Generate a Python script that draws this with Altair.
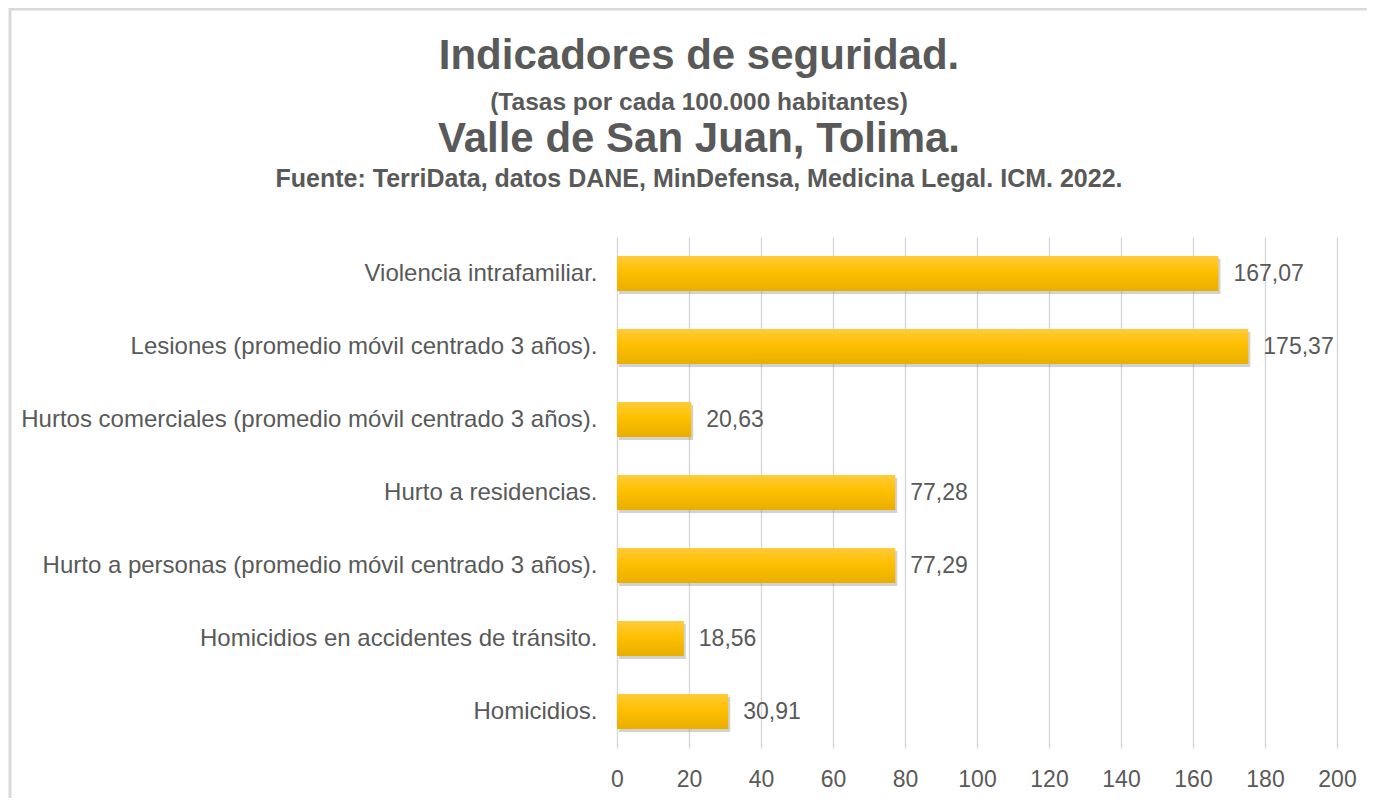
import altair as alt
import pandas as pd

categorias = [
    "Violencia intrafamiliar.",
    "Lesiones (promedio móvil centrado 3 años).",
    "Hurtos comerciales (promedio móvil centrado 3 años).",
    "Hurto a residencias.",
    "Hurto a personas (promedio móvil centrado 3 años).",
    "Homicidios en accidentes de tránsito.",
    "Homicidios.",
]
valores = [167.07, 175.37, 20.63, 77.28, 77.29, 18.56, 30.91]
etiquetas = ["167,07", "175,37", "20,63", "77,28", "77,29", "18,56", "30,91"]
ticks_x = [0, 20, 40, 60, 80, 100, 120, 140, 160, 180, 200]

titulos = [
    "Indicadores de seguridad.",
    "(Tasas por cada 100.000 habitantes)",
    "Valle de San Juan, Tolima.",
    "Fuente: TerriData, datos DANE, MinDefensa, Medicina Legal. ICM. 2022.",
]

df = pd.DataFrame({"cat": categorias, "val": valores, "lab": etiquetas})

FONT = "Liberation Sans"
GRAY = "#595959"

y_enc = alt.Y(
    "cat:N",
    sort=categorias,
    title=None,
    scale=alt.Scale(paddingInner=0.52, paddingOuter=0.26),
    axis=alt.Axis(
        domain=False, ticks=False, labelPadding=20, labelFontSize=24,
        labelColor=GRAY, labelFont=FONT, labelLimit=700, grid=False,
    ),
)
x_enc = alt.X(
    "val:Q",
    title=None,
    scale=alt.Scale(domain=[0, 200], nice=False),
    axis=alt.Axis(
        values=ticks_x, domain=False, ticks=False, labelPadding=20,
        labelFontSize=23, labelColor=GRAY, labelFont=FONT, labelFlush=False,
        grid=True, gridColor="#d9d9d9", gridWidth=1.5,
    ),
)

base = alt.Chart(df)

shadow = base.mark_bar(color="#7f7f7f", opacity=0.35, xOffset=2, yOffset=3).encode(
    x=x_enc, y=y_enc
)

gradient = alt.Gradient(
    gradient="linear",
    stops=[
        alt.GradientStop(color="#FFCB3A", offset=0),
        alt.GradientStop(color="#FFC000", offset=0.45),
        alt.GradientStop(color="#E9AE00", offset=1),
    ],
    x1=0, x2=0, y1=0, y2=1,
)
bars = base.mark_bar(color=gradient).encode(x=x_enc, y=y_enc)

text = base.mark_text(
    align="left", baseline="middle", dx=15, fontSize=23, font=FONT, color=GRAY
).encode(x="val:Q", y=alt.Y("cat:N", sort=categorias), text="lab:N")

tdf = pd.DataFrame({"t": titulos})
t_sizes = [42, 24.5, 42, 25]
t_y = [-168, -127, -85, -50]
title_layers = []
for i, (s, yy) in enumerate(zip(t_sizes, t_y)):
    title_layers.append(
        alt.Chart(tdf.iloc[[i]]).mark_text(
            align="center", baseline="alphabetic", fontSize=s, fontWeight="bold",
            font=FONT, color=GRAY,
        ).encode(text="t:N", x=alt.value(82), y=alt.value(yy))
    )

border = alt.Chart(pd.DataFrame({"a": [0]})).mark_rect(
    filled=False, stroke="#d9d9d9", strokeWidth=3
).encode(x=alt.value(-607), x2=alt.value(780), y=alt.value(-228), y2=alt.value(620))

chart = alt.layer(border, shadow, bars, text, *title_layers).properties(
    width=720,
    height=511,
    autosize=alt.AutoSizeParams(type="none"),
    padding={"left": 609, "top": 229, "right": 30, "bottom": 50},
    background="white",
).configure_view(stroke=None)

chart.save("out.html", embed_options={"renderer": "svg", "actions": False})
